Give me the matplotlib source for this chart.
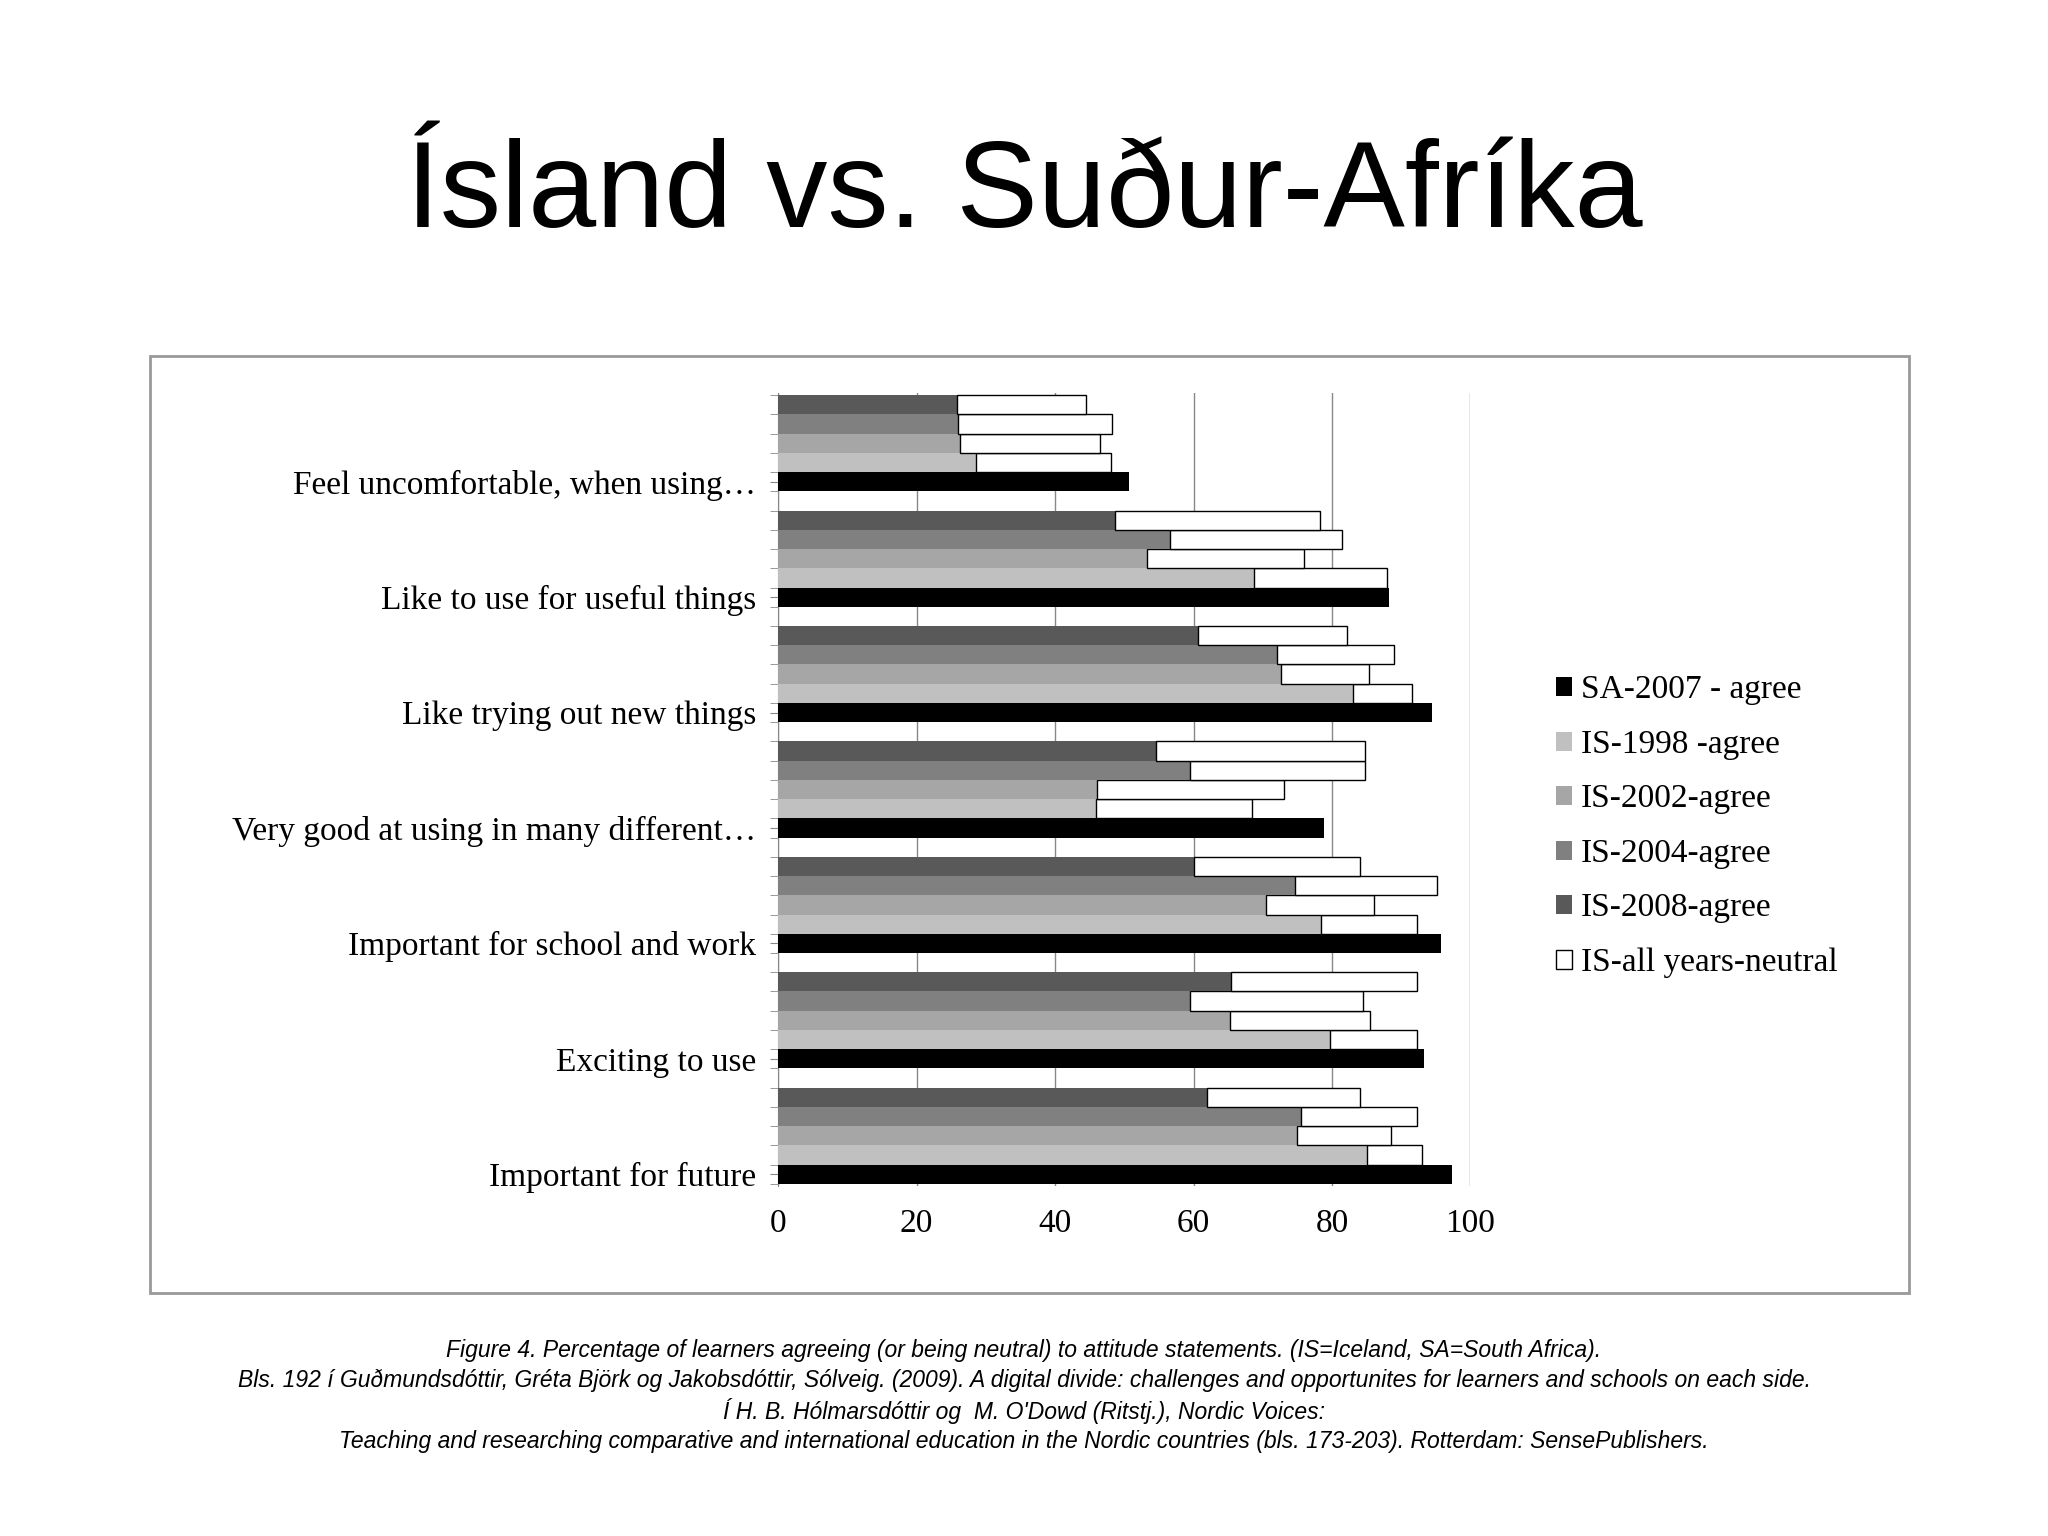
import matplotlib.pyplot as plt
import matplotlib.patches as mpatches
import numpy as np

categories = ["Important for future", "Exciting to use", "Important for school and work",
              "Very good at using in many different…", "Like trying out new things",
              "Like to use for useful things", "Feel uncomfortable, when using…"]
sa_2007 = [97.3, 93.3, 95.8, 78.8, 94.5, 88.3, 50.7]
is_1998 = [85.0, 79.7, 78.4, 45.9, 83.0, 68.8, 28.5]
is_2002 = [75.0, 65.2, 70.5, 46.0, 72.7, 53.2, 26.2]
is_2004 = [75.5, 59.5, 74.6, 59.5, 72.0, 56.6, 26.0]
is_2008 = [62.0, 65.4, 60.0, 54.5, 60.6, 48.6, 25.8]
tot_1998 = [93.0, 92.3, 92.3, 68.5, 91.6, 88.0, 48.0]
tot_2002 = [88.5, 85.5, 86.0, 73.0, 85.3, 76.0, 46.5]
tot_2004 = [92.3, 84.5, 95.2, 84.7, 89.0, 81.5, 48.2]
tot_2008 = [84.0, 92.3, 84.0, 84.7, 82.2, 78.2, 44.5]

serif = "Liberation Serif"
fig = plt.figure(figsize=(20.48, 15.36), dpi=100)
fig.text(0.5, 0.873, "Ísland vs. Suður-Afríka", ha="center", va="center",
         fontsize=88, family="Liberation Sans")

# chart frame
fig.patches.append(mpatches.Rectangle((0.073, 0.158), 0.859, 0.61, transform=fig.transFigure,
                                      fill=False, edgecolor="#999999", lw=2))

ax = fig.add_axes([0.380, 0.228, 0.338, 0.516])
n = len(categories)
base = np.arange(n) * 6.0
h = 1.0
ax.barh(base, sa_2007, height=h, color="black", label="SA-2007 - agree", zorder=3)
series = [(is_1998, tot_1998, "#c0c0c0", "IS-1998 -agree"),
          (is_2002, tot_2002, "#a6a6a6", "IS-2002-agree"),
          (is_2004, tot_2004, "#808080", "IS-2004-agree"),
          (is_2008, tot_2008, "#595959", "IS-2008-agree")]
for j, (agree, tot, col, lab) in enumerate(series, start=1):
    y = base + j
    ax.barh(y, agree, height=h, color=col, label=lab, zorder=3)
    neutral = np.array(tot) - np.array(agree)
    ax.barh(y, neutral, left=agree, height=h, color="white", edgecolor="black", lw=1,
            zorder=3, label="IS-all years-neutral" if j == 4 else None)

ax.set_xlim(0, 100)
ax.set_ylim(-0.6, base[-1] + 4.6)
ax.set_xticks(range(0, 101, 20))
ax.set_yticks(base)
ax.set_yticklabels(categories, family=serif, fontsize=24)
ax.set_yticks(np.arange(-0.5, base[-1] + 5, 1.0), minor=True)
ax.tick_params(axis="y", which="minor", length=6, color="#888888")
ax.tick_params(axis="y", which="major", length=6, color="#888888", pad=10)
ax.tick_params(axis="x", length=0, labelsize=24, pad=16)
for t in ax.get_xticklabels():
    t.set_family(serif)
ax.grid(axis="x", color="#888888", lw=1, zorder=0)
for s in ["top", "right", "bottom"]:
    ax.spines[s].set_visible(False)
ax.spines["left"].set_color("#888888")

handles, labels = ax.get_legend_handles_labels()
leg = fig.legend(handles, labels, loc="center left", bbox_to_anchor=(0.745, 0.462),
                 frameon=False, prop={"family": serif, "size": 24},
                 handlelength=0.5, handleheight=0.5, labelspacing=0.72, handletextpad=0.25)

caption = ["Figure 4. Percentage of learners agreeing (or being neutral) to attitude statements. (IS=Iceland, SA=South Africa).",
           "Bls. 192 í Guðmundsdóttir, Gréta Björk og Jakobsdóttir, Sólveig. (2009). A digital divide: challenges and opportunites for learners and schools on each side.",
           "Í H. B. Hólmarsdóttir og  M. O'Dowd (Ritstj.), Nordic Voices:",
           "Teaching and researching comparative and international education in the Nordic countries (bls. 173-203). Rotterdam: SensePublishers."]
for i, line in enumerate(caption):
    fig.text(0.5, 0.121 - i * 0.0198, line, ha="center", va="center", fontsize=16.5,
             style="italic", family="Liberation Sans")

fig.savefig("out.png", dpi=100)
